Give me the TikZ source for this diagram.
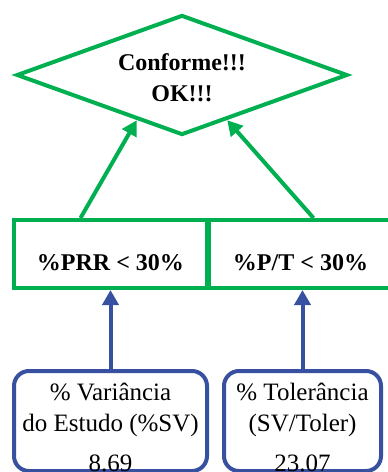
\documentclass[tikz,border=0pt]{standalone}
\usepackage{fontspec}
\setmainfont{Liberation Serif}
\usetikzlibrary{shapes.geometric, arrows.meta, positioning}
\definecolor{okgreen}{RGB}{0,176,80}
\definecolor{okblue}{RGB}{55,80,160}

\begin{document}
\begin{tikzpicture}[x=1pt, y=-1pt, font=\fontsize{24}{31}\selectfont,
    crit/.style={draw=okgreen, line width=4pt, minimum height=68pt, inner sep=0pt,
                 text height=33pt, text depth=0pt, font=\fontsize{24}{31}\selectfont\bfseries},
    meas/.style={draw=okblue, line width=4pt, rounded corners=15pt, minimum height=94pt,
                 inner sep=0pt, align=center, text height=100pt, text depth=0pt,
                 font=\fontsize{25}{31}\selectfont},
    uparrow/.style={line width=4pt, -{Triangle[length=15pt, width=16pt]}}]
    \useasboundingbox (0,0) rectangle (388,472);
    \node[diamond, aspect=2.76, draw=okgreen, line width=4pt, minimum width=331pt, minimum height=120pt,
          inner sep=0pt, align=center, text height=52pt, text depth=0pt,
          font=\fontsize{24}{31}\selectfont\bfseries] (ok) at (182,75) {Conforme!!!\\OK!!!};
    \node[crit, minimum width=193pt] (prr) at (110.5,254) {\%PRR < 30\%};
    \node[crit, minimum width=183pt] (pt) at (300.5,254) {\%P/T < 30\%};
    \node[meas, minimum width=193pt] (var) at (110.5,421) {\% Variância\\do Estudo (\%SV)\\[9pt]8.69};
    \node[meas, minimum width=157pt] (tol) at (302.5,421) {\% Tolerância\\(SV/Toler)\\[9pt]23.07};
    \draw[uparrow, okgreen] ([xshift=-30pt]prr.north) -- (ok.225);
    \draw[uparrow, okgreen] ([xshift=13pt]pt.north) -- (ok.315);
    \draw[uparrow, okblue] (var.north) -- (var.north |- prr.south);
    \draw[uparrow, okblue] (tol.north) -- (tol.north |- pt.south);
\end{tikzpicture}
\end{document}
